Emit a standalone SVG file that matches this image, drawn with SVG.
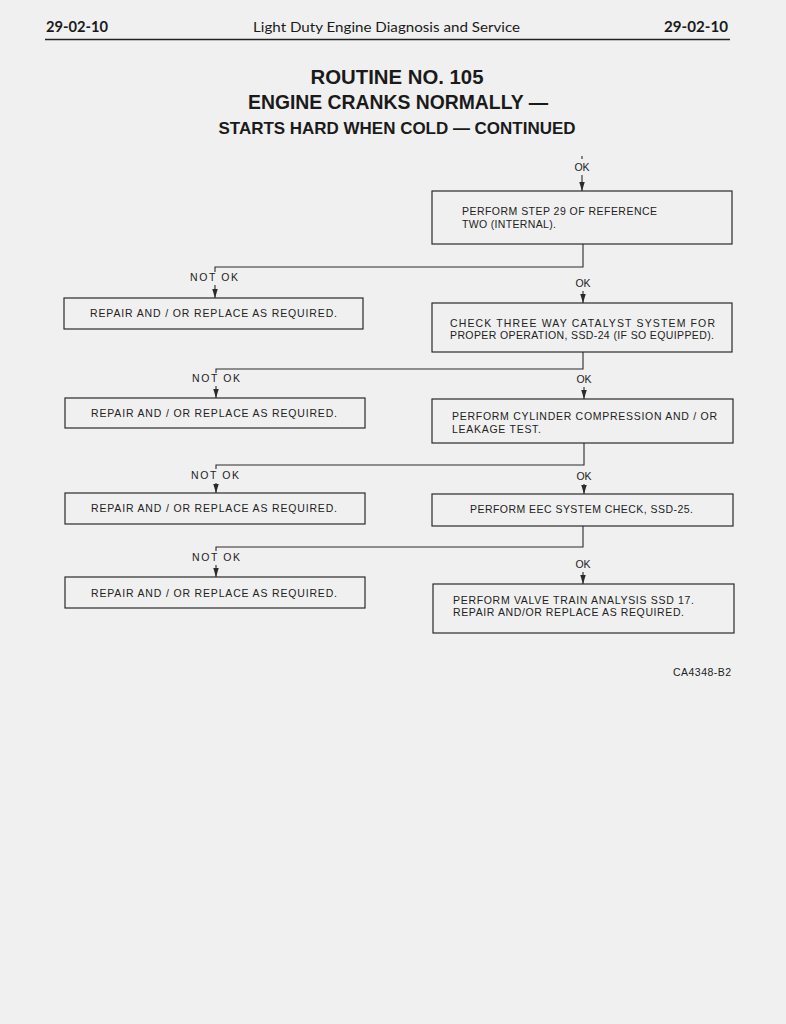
<svg xmlns="http://www.w3.org/2000/svg" width="786" height="1024" viewBox="0 0 786 1024">
<defs>
<style>
.box{fill:none;stroke:#2a2a2a;stroke-width:1.2}
.ln{fill:none;stroke:#2a2a2a;stroke-width:1.1}
.t{font-family:"Liberation Sans",Arial,sans-serif;font-size:10.5px;fill:#222}
.lbl{font-family:"Liberation Sans",Arial,sans-serif;font-size:10.5px;fill:#222}
.hd{font-family:Lato,"Noto Sans",sans-serif;fill:#1a1a1a}
.ti{font-family:"Liberation Sans",Arial,sans-serif;font-weight:bold;fill:#1a1a1a;text-anchor:middle}
</style>
<marker id="ah" viewBox="0 0 10 6" refX="10" refY="3" markerWidth="9" markerHeight="5.5" orient="auto" markerUnits="userSpaceOnUse" preserveAspectRatio="none">
<path d="M0,0 L10,3 L0,6 Z" fill="#2a2a2a"/>
</marker>
</defs>
<rect width="786" height="1024" fill="#f0f0f0"/>

<g id="header">
<text class="hd" x="46" y="32" font-size="15" font-weight="bold" textLength="62" lengthAdjust="spacingAndGlyphs">29-02-10</text>
<text class="hd" x="253" y="32" font-size="14" textLength="267" lengthAdjust="spacingAndGlyphs">Light Duty Engine Diagnosis and Service</text>
<text class="hd" x="664" y="32" font-size="15" font-weight="bold" textLength="64" lengthAdjust="spacingAndGlyphs">29-02-10</text>
<line x1="45" y1="39.5" x2="730" y2="39.5" stroke="#222" stroke-width="1.6"/>
</g>

<g id="title">
<text class="ti" x="397" y="84" font-size="20" textLength="173" lengthAdjust="spacingAndGlyphs">ROUTINE NO. 105</text>
<text class="ti" x="398" y="109" font-size="20" textLength="300" lengthAdjust="spacingAndGlyphs">ENGINE CRANKS NORMALLY —</text>
<text class="ti" x="397" y="134" font-size="16.5" textLength="357" lengthAdjust="spacingAndGlyphs">STARTS HARD WHEN COLD — CONTINUED</text>
</g>

<g id="connectors">
<line class="ln" x1="582" y1="156" x2="582" y2="159"/>
<text class="lbl" x="582" y="171" text-anchor="middle">OK</text>
<line class="ln" x1="582" y1="175" x2="582" y2="191" marker-end="url(#ah)"/>

<polyline class="ln" points="583,244 583,267 215,267 215,272"/>
<text class="lbl" x="190" y="281" textLength="48" lengthAdjust="spacing">NOT OK</text>
<line class="ln" x1="215" y1="285" x2="215" y2="298" marker-end="url(#ah)"/>
<text class="lbl" x="583" y="287" text-anchor="middle">OK</text>
<line class="ln" x1="583" y1="291" x2="583" y2="303" marker-end="url(#ah)"/>

<polyline class="ln" points="583,352 583,369 216,369 216,373"/>
<text class="lbl" x="192" y="382" textLength="48" lengthAdjust="spacing">NOT OK</text>
<line class="ln" x1="216" y1="386" x2="216" y2="398" marker-end="url(#ah)"/>
<text class="lbl" x="584" y="383" text-anchor="middle">OK</text>
<line class="ln" x1="584" y1="387" x2="584" y2="399" marker-end="url(#ah)"/>

<polyline class="ln" points="584,443 584,465 216,465 216,469"/>
<text class="lbl" x="191" y="479" textLength="48" lengthAdjust="spacing">NOT OK</text>
<line class="ln" x1="216" y1="483" x2="216" y2="493" marker-end="url(#ah)"/>
<text class="lbl" x="584" y="480" text-anchor="middle">OK</text>
<line class="ln" x1="584" y1="484" x2="584" y2="494" marker-end="url(#ah)"/>

<polyline class="ln" points="583,526 583,547 216,547 216,551"/>
<text class="lbl" x="192" y="561" textLength="48" lengthAdjust="spacing">NOT OK</text>
<line class="ln" x1="216" y1="565" x2="216" y2="577" marker-end="url(#ah)"/>
<text class="lbl" x="583" y="568" text-anchor="middle">OK</text>
<line class="ln" x1="583" y1="572" x2="583" y2="584" marker-end="url(#ah)"/>
</g>

<g id="n1">
<rect class="box" x="432" y="191" width="300" height="53"/>
<text class="t" x="462" y="215" textLength="195" lengthAdjust="spacing">PERFORM STEP 29 OF REFERENCE</text>
<text class="t" x="462" y="228" textLength="94" lengthAdjust="spacing">TWO (INTERNAL).</text>
</g>

<g id="n2">
<rect class="box" x="432" y="303" width="300" height="49"/>
<text class="t" x="450" y="327" textLength="265" lengthAdjust="spacing">CHECK THREE WAY CATALYST SYSTEM FOR</text>
<text class="t" x="450" y="339" textLength="264" lengthAdjust="spacing">PROPER OPERATION, SSD-24 (IF SO EQUIPPED).</text>
</g>

<g id="n3">
<rect class="box" x="432" y="399" width="301" height="44"/>
<text class="t" x="452" y="420" textLength="265" lengthAdjust="spacing">PERFORM CYLINDER COMPRESSION AND / OR</text>
<text class="t" x="452" y="433" textLength="89" lengthAdjust="spacing">LEAKAGE TEST.</text>
</g>

<g id="n4">
<rect class="box" x="432" y="494" width="301" height="32"/>
<text class="t" x="470" y="513" textLength="223" lengthAdjust="spacing">PERFORM EEC SYSTEM CHECK, SSD-25.</text>
</g>

<g id="n5">
<rect class="box" x="433" y="584" width="301" height="49"/>
<text class="t" x="453" y="604" textLength="241" lengthAdjust="spacing">PERFORM VALVE TRAIN ANALYSIS SSD 17.</text>
<text class="t" x="453" y="616" textLength="231" lengthAdjust="spacing">REPAIR AND/OR REPLACE AS REQUIRED.</text>
</g>

<g id="r1">
<rect class="box" x="64" y="298" width="299" height="31"/>
<text class="t" x="90" y="317" textLength="247" lengthAdjust="spacing">REPAIR AND / OR REPLACE AS REQUIRED.</text>
</g>
<g id="r2">
<rect class="box" x="65" y="398" width="300" height="30"/>
<text class="t" x="91" y="417" textLength="246" lengthAdjust="spacing">REPAIR AND / OR REPLACE AS REQUIRED.</text>
</g>
<g id="r3">
<rect class="box" x="65" y="493" width="300" height="31"/>
<text class="t" x="91" y="512" textLength="246" lengthAdjust="spacing">REPAIR AND / OR REPLACE AS REQUIRED.</text>
</g>
<g id="r4">
<rect class="box" x="65" y="577" width="300" height="31"/>
<text class="t" x="91" y="597" textLength="246" lengthAdjust="spacing">REPAIR AND / OR REPLACE AS REQUIRED.</text>
</g>

<g id="code">
<text class="t" x="673" y="676" font-size="10" textLength="58" lengthAdjust="spacing">CA4348-B2</text>
</g>
</svg>
